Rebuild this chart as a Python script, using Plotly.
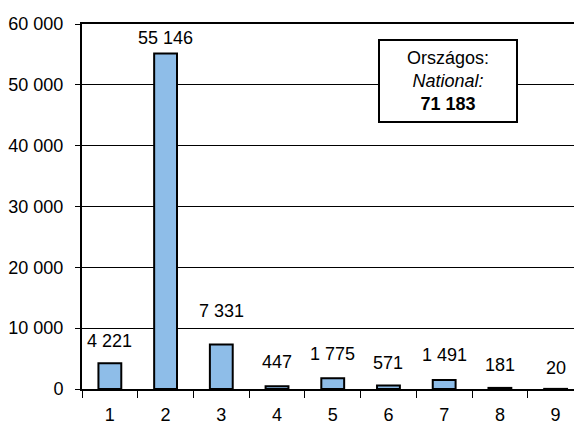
import plotly.graph_objects as go

# Data
categories = ["1", "2", "3", "4", "5", "6", "7", "8", "9"]
values = [4221, 55146, 7331, 447, 1775, 571, 1491, 181, 20]
national_total = 71183

# Style: vertical gap (px) between bar top and its value label, as placed in the original
label_shift = [22, 16, 33, 24, 24, 23, 25, 23, 21]

_FONT = "Liberation Sans, Arial, sans-serif"
_BAR = "#8EBDE8"


def _fmt(v):
    return f"{v:,}".replace(",", " ")


fig = go.Figure(
    go.Bar(
        x=categories,
        y=values,
        width=0.41,
        marker=dict(color=_BAR, line=dict(color="black", width=2)),
        hoverinfo="x+y",
    )
)

# category axes read numeric-looking strings as positions, so use the index
for i, (v, dy) in enumerate(zip(values, label_shift)):
    fig.add_annotation(
        x=i, y=v, text=_fmt(v), showarrow=False,
        yanchor="middle", yshift=dy, font=dict(size=18, color="black"),
    )

# "Országos / National" total box
fig.add_annotation(
    xref="paper", yref="paper", x=0.744, y=0.845,
    xanchor="center", yanchor="middle",
    text=f"Országos:<br><i>National:</i><br><b>{_fmt(national_total)}</b>",
    showarrow=False, align="center",
    font=dict(size=18, color="black"),
    bgcolor="white", bordercolor="black", borderwidth=2,
    width=134, height=78,
)

fig.update_layout(
    width=574, height=427,
    margin=dict(l=82, r=0, t=24, b=38),
    paper_bgcolor="white", plot_bgcolor="white",
    font=dict(family=_FONT, size=18, color="black"),
    separators=". ",
    showlegend=False,
)
fig.update_xaxes(
    type="category", range=[-0.5, 8.33], automargin=False,
    showline=True, linecolor="black", linewidth=2, mirror=True,
    ticks="outside", tickson="boundaries", ticklen=7, tickcolor="black", tickwidth=1,
    ticklabelstandoff=8, showgrid=False,
)
fig.update_yaxes(
    range=[0, 60000], dtick=10000, tickformat=",d", automargin=False,
    showline=True, linecolor="black", linewidth=2,
    ticks="outside", ticklen=5, tickcolor="black",
    ticklabelstandoff=8,
    showgrid=True, gridcolor="black", gridwidth=1,
    zeroline=False,
)

# drop the browser's default 8px body margin so the figure fills the window
fig.write_html(
    "out.html",
    config={"displayModeBar": False},
    post_script="document.body.style.margin='0';",
)
